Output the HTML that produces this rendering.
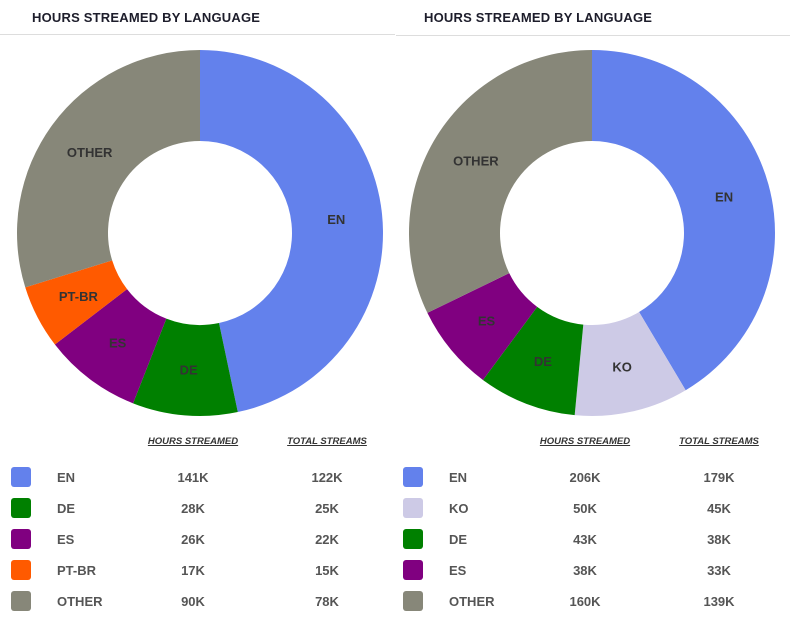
<!DOCTYPE html>
<html><head><meta charset="utf-8">
<style>
body{margin:0;width:790px;height:617px;background:#fff;font-family:"Liberation Sans",Arial,sans-serif;overflow:hidden;position:relative}
.title{position:absolute;top:10px;font-size:13px;font-weight:bold;color:#1d1d2b;letter-spacing:0.2px}
.hr{position:absolute;top:34px;height:1px;background:#ddd}
.hdr{position:absolute;top:436px;font-size:9.5px;font-weight:bold;font-style:italic;text-decoration:underline;color:#333;transform:translateX(-50%);white-space:nowrap}
.sw{position:absolute;width:20px;height:20px;border-radius:3px}
.lab,.val{position:absolute;font-size:13px;font-weight:bold;color:#555}
.val{transform:translateX(-50%)}
svg{position:absolute;left:0;top:0}
</style></head><body>
<div class="title" style="left:32px">HOURS STREAMED BY LANGUAGE</div>
<div class="title" style="left:424px">HOURS STREAMED BY LANGUAGE</div>
<div class="hr" style="left:0;width:395px"></div>
<div class="hr" style="left:396px;width:394px;top:35px"></div>
<svg width="790" height="617" id="svg"></svg>
<script>
const leftCats=["EN","DE","ES","PT-BR","OTHER"];
const leftHours=[141,28,26,17,90];
const leftStreams=[122,25,22,15,78];
const leftColors=["#6381ec","#008000","#800080","#ff5a00","#878779"];
const rightCats=["EN","KO","DE","ES","OTHER"];
const rightHours=[206,50,43,38,160];
const rightStreams=[179,45,38,33,139];
const rightColors=["#6381ec","#cdcae6","#008000","#800080","#878779"];
const NS="http://www.w3.org/2000/svg";
const svg=document.getElementById('svg');
function pt(cx,cy,r,a){return [cx+r*Math.sin(a),cy-r*Math.cos(a)];}
function donut(side,cx,cy,cats,vals,cols){
  const R=183,r=92,tot=vals.reduce((a,b)=>a+b,0);let a0=0;
  vals.forEach((v,i)=>{
    const a1=a0+v/tot*2*Math.PI,lg=(a1-a0)>Math.PI?1:0;
    const p1=pt(cx,cy,R,a0),p2=pt(cx,cy,R,a1),p3=pt(cx,cy,r,a1),p4=pt(cx,cy,r,a0);
    const p=document.createElementNS(NS,'path');
    p.setAttribute('d',`M${p1}A${R},${R} 0 ${lg} 1 ${p2}L${p3}A${r},${r} 0 ${lg} 0 ${p4}Z`);
    p.setAttribute('fill',cols[i]);
    
    
    svg.appendChild(p);
    const m=pt(cx,cy,137,(a0+a1)/2);
    const t=document.createElementNS(NS,'text');
    t.setAttribute('x',m[0]);t.setAttribute('y',m[1]+5);
    t.setAttribute('text-anchor','middle');t.setAttribute('font-size','13');
    t.setAttribute('font-weight','bold');t.setAttribute('fill','#333');
    t.setAttribute('font-family','Liberation Sans, Arial, sans-serif');
    t.textContent=cats[i];
    
    
    svg.appendChild(t);
    a0=a1;
  });
}
donut('left',200,233,leftCats,leftHours,leftColors);
donut('right',592,233,rightCats,rightHours,rightColors);
function add(cls,style,txt,name){
  const d=document.createElement('div');d.className=cls;d.style.cssText=style;d.textContent=txt;
  
  
  document.body.appendChild(d);return d;
}
function legend(side,x0,cats,h,s,cols){
  add('hdr',`left:${x0+183}px`,'HOURS STREAMED',side+'-hours-header');
  add('hdr',`left:${x0+317}px`,'TOTAL STREAMS',side+'-streams-header');
  cats.forEach((c,i)=>{
    const y=467+i*31;
    add('sw',`left:${x0+1}px;top:${y}px;background:${cols[i]}`,'',side+'-swatch-'+c.toLowerCase());
    add('lab',`left:${x0+47}px;top:${y+3}px`,c,side+'-legend-label-'+c.toLowerCase());
    add('val',`left:${x0+183}px;top:${y+3}px`,h[i]+'K',side+'-hours-'+c.toLowerCase());
    add('val',`left:${x0+317}px;top:${y+3}px`,s[i]+'K',side+'-streams-'+c.toLowerCase());
  });
}
legend('left',10,leftCats,leftHours,leftStreams,leftColors);
legend('right',402,rightCats,rightHours,rightStreams,rightColors);
</script>
</body></html>
